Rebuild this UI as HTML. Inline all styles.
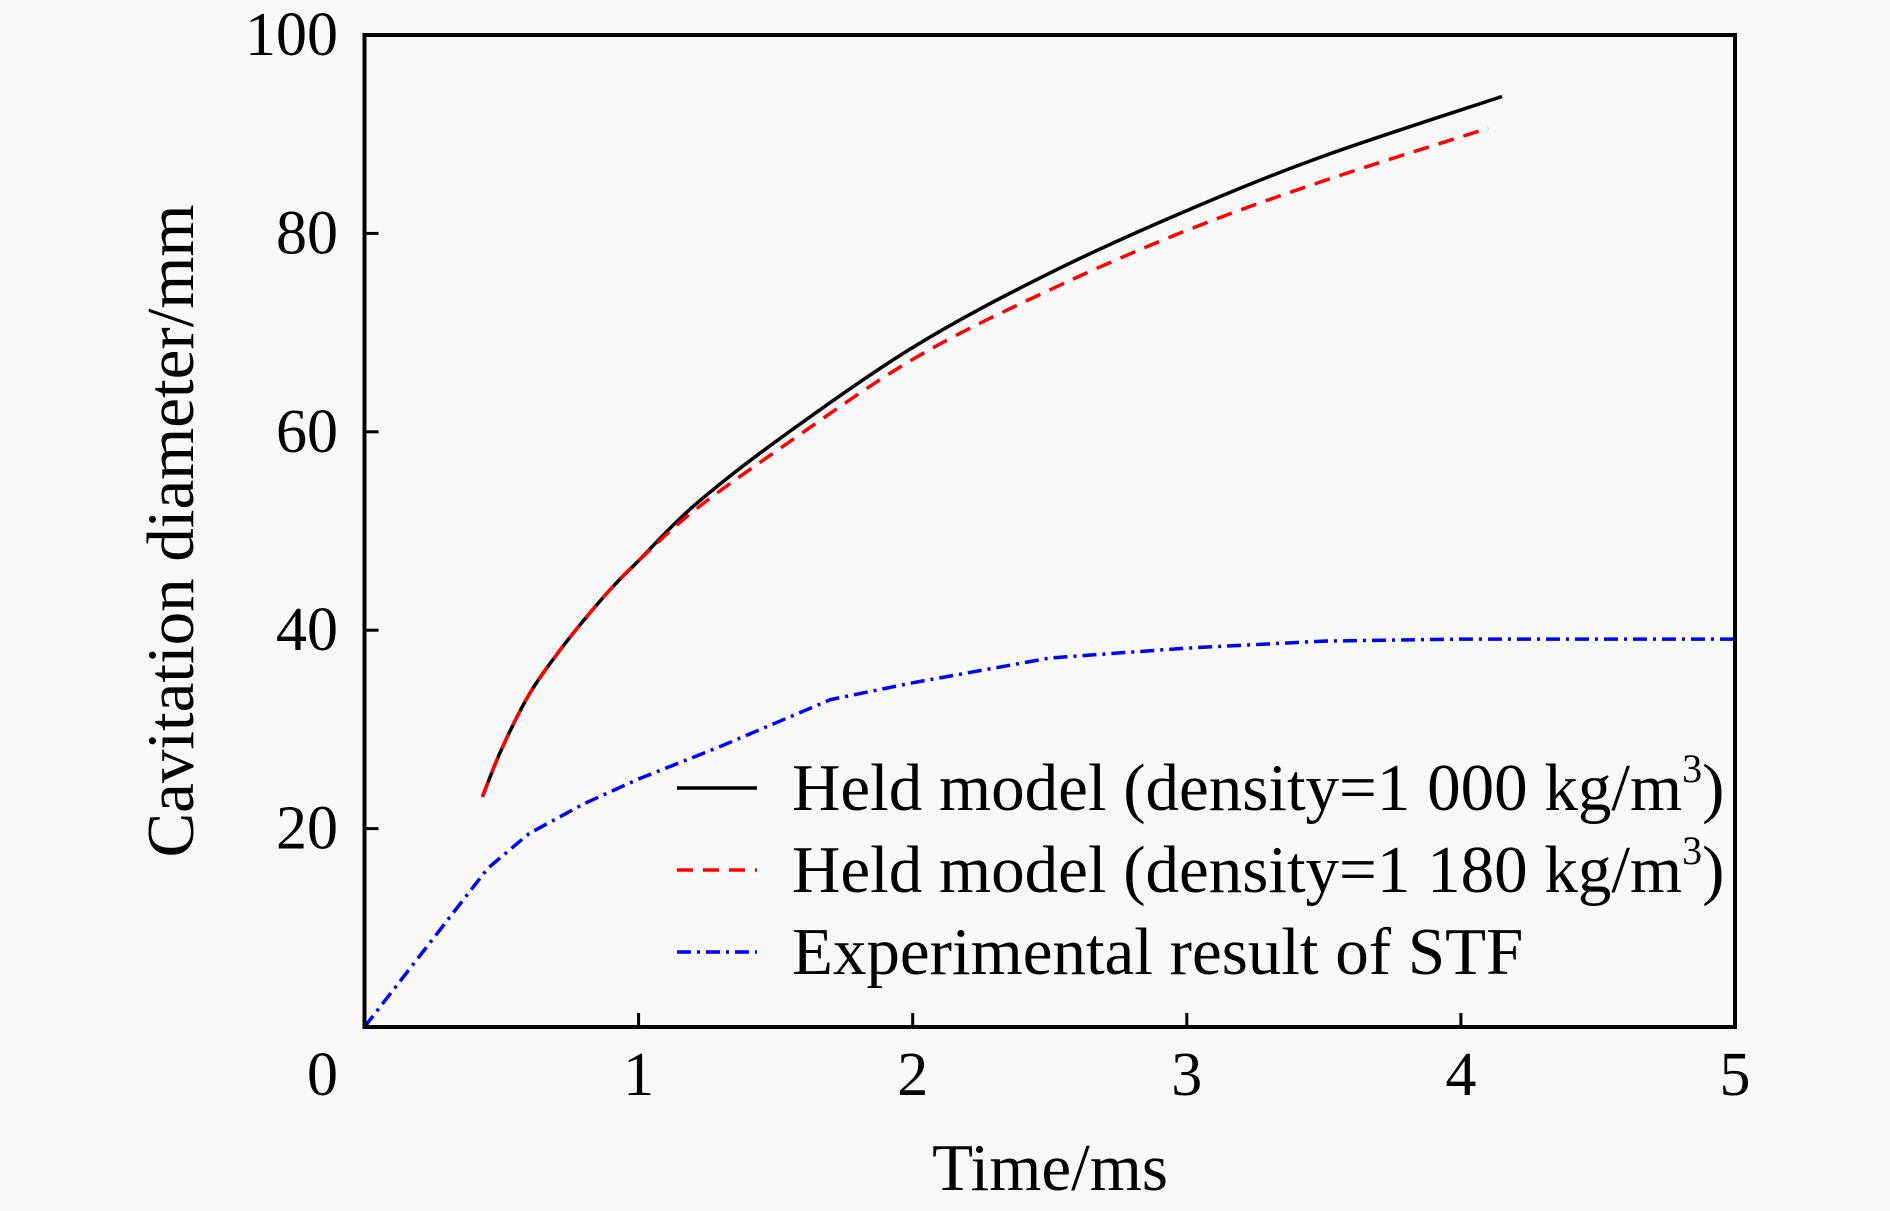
<!DOCTYPE html>
<html><head><meta charset="utf-8"><style>
html,body{margin:0;padding:0;background:#f8f8f8;}
svg{display:block;font-family:"Liberation Serif",serif;}
</style></head><body>
<svg id="chart" width="1890" height="1211" viewBox="0 0 1890 1211" xmlns="http://www.w3.org/2000/svg">
<rect width="1890" height="1211" fill="#f8f8f8"/>
<g id="marks"></g>
<g id="axes"></g>
</svg>
<script>
const xTicks=[0,1,2,3,4,5];
const yTicks=[20,40,60,80,100];
const heldT=[0.43,0.5,0.6,0.7,0.8,0.9,1.0,1.2,1.5,2.0,2.5,3.0,3.5,4.15];
const heldD=[23.2,28,33.5,37.5,41,44.2,47,52.5,59,68.5,76,82.3,87.8,93.8];
const heldRT=[0.43,0.5,0.6,0.7,0.8,0.9,1.0,1.2,1.5,2.0,2.5,3.0,3.5,4.1];
const heldRD=[23.2,28,33.5,37.5,41,44.2,47,52,58,67.3,74.3,80.3,85.3,90.6];
const expT=[0,0.45,0.6,0.8,1.0,1.3,1.7,2.0,2.5,3.0,3.5,4.0,5.0];
const expD=[0,16,19.5,22.5,25,28.3,33,34.7,37.2,38.2,38.9,39.1,39.1];
const NS="http://www.w3.org/2000/svg";
const X0=364.5,X1=1735,Y0=1027,Y1=35;
const sx=v=>X0+(X1-X0)*v/5, sy=v=>Y0-(Y0-Y1)*v/100;
function mk(tag,attrs,parent,text){const e=document.createElementNS(NS,tag);for(const k in attrs)e.setAttribute(k,attrs[k]);if(text!==undefined)e.textContent=text;parent.appendChild(e);return e;}
const marks=document.getElementById('marks'),axes=document.getElementById('axes');
function smoothPath(ts,ds){
  const P=ts.map((t,i)=>[sx(t),sy(ds[i])]);
  let d='M'+P[0][0].toFixed(1)+','+P[0][1].toFixed(1);
  for(let i=0;i<P.length-1;i++){
    const p0=P[Math.max(0,i-1)],p1=P[i],p2=P[i+1],p3=P[Math.min(P.length-1,i+2)];
    const c1=[p1[0]+(p2[0]-p0[0])/6,p1[1]+(p2[1]-p0[1])/6];
    const c2=[p2[0]-(p3[0]-p1[0])/6,p2[1]-(p3[1]-p1[1])/6];
    d+=' C'+c1.map(v=>v.toFixed(1)).join(',')+' '+c2.map(v=>v.toFixed(1)).join(',')+' '+p2.map(v=>v.toFixed(1)).join(',');
  }
  return d;
}
function line(ts,ds,color,dash,name,smooth){
  const d=smooth?smoothPath(ts,ds):ts.map((t,i)=>(i?'L':'M')+sx(t).toFixed(1)+','+sy(ds[i]).toFixed(1)).join(' ');
  const p=mk('path',{d:d,fill:'none',stroke:color,'stroke-width':3.5,'stroke-dasharray':dash},marks);
  
  
}
line(heldT,heldD,'#000','none','held-1000-line',true);
line(heldRT,heldRD,'#ff0000','16,10','held-1180-line',true);
line(expT,expD,'#0000ff','14,6,3,6','experimental-stf-line',false);
const frame=mk('rect',{x:X0,y:Y1,width:X1-X0,height:Y0-Y1,fill:'none',stroke:'#000','stroke-width':4},axes);


xTicks.forEach(v=>{
  if(v>0&&v<5){const t=mk('line',{x1:sx(v),x2:sx(v),y1:Y0,y2:Y0-14,stroke:'#000','stroke-width':3},axes);
  
  }
  const l=mk('text',{x:sx(v)+(v===0?-42:0),y:1095,'text-anchor':'middle','font-size':62},axes,String(v));
  
  
});
yTicks.forEach(v=>{
  if(v<100){const t=mk('line',{x1:X0,x2:X0+14,y1:sy(v),y2:sy(v),stroke:'#000','stroke-width':3},axes);
  
  }
  const l=mk('text',{x:338,y:sy(v)+20,'text-anchor':'end','font-size':62},axes,String(v));
  
  
});
const xt=mk('text',{x:1050,y:1190,'text-anchor':'middle','font-size':67},axes,'Time/ms');


const yt=mk('text',{x:0,y:0,'text-anchor':'middle','font-size':67,transform:'translate(193,531) rotate(-90)'},axes,'Cavitation diameter/mm');


const leg=[['#000','none','Held model (density=1 000 kg/m','3',')'],['#ff0000','16,10','Held model (density=1 180 kg/m','3',')'],['#0000ff','14,6,3,6','Experimental result of STF','','']];
const legY=[810,892,974];
leg.forEach((e,i)=>{
  const g=mk('g',{},axes);
  
  
  mk('line',{x1:677,x2:757,y1:legY[i]-22,y2:legY[i]-22,stroke:e[0],'stroke-width':3.5,'stroke-dasharray':e[1]},g);
  const t=mk('text',{x:792,y:legY[i],'font-size':67},g,e[2]);
  if(e[3]){mk('tspan',{'font-size':40,dy:-28},t,e[3]);mk('tspan',{dy:28},t,e[4]);}
});
</script>
</body></html>
